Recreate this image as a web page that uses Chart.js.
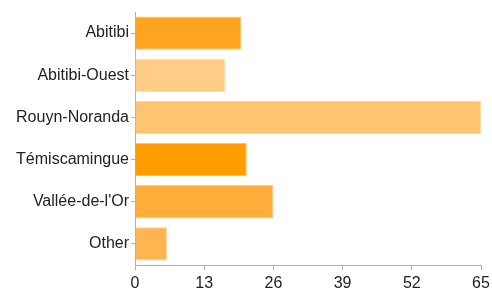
<!DOCTYPE html>
<html>
<head>
<meta charset="utf-8">
<script src="https://cdn.jsdelivr.net/npm/chart.js@4"></script>
<style>
html,body{margin:0;padding:0;background:#fff;}
#wrap{width:492px;height:290px;}
</style>
</head>
<body>
<div id="wrap"><canvas id="c" width="492" height="290"></canvas></div>
<script>
const categories = ["Abitibi", "Abitibi-Ouest", "Rouyn-Noranda", "Témiscamingue", "Vallée-de-l'Or", "Other"];
const values = [20, 17, 65, 21, 26, 6];
const barColors = ["#ffa41f", "#ffcd88", "#ffc470", "#ff9c00", "#ffad3b", "#ffb54f"];
const borderColors = ["#ffc778", "#ffe2bb", "#ffdcaa", "#ffc46a", "#ffcc85", "#ffd192"];
const xTicks = [0, 13, 26, 39, 52, 65];

new Chart(document.getElementById('c'), {
  type: 'bar',
  data: {
    labels: categories,
    datasets: [{
      data: values,
      backgroundColor: barColors,
      borderColor: borderColors,
      borderWidth: 1,
      barPercentage: 0.79,
      categoryPercentage: 1.0
    }]
  },
  options: {
    indexAxis: 'y',
    responsive: false,
    animation: false,
    devicePixelRatio: 1,
    layout: { padding: { top: 12, right: 11, left: 0, bottom: 0 } },
    plugins: { legend: { display: false }, tooltip: { enabled: false } },
    scales: {
      x: {
        min: 0, max: 65,
        afterBuildTicks: (s) => { s.ticks = xTicks.map(v => ({ value: v })); },
        afterFit: (s) => { s.height = 25; s.paddingRight = 0; s.paddingLeft = 0; },
        grid: { drawOnChartArea: false, drawTicks: true, tickLength: 5, color: '#b0b0b0' },
        border: { color: '#b0b0b0', width: 1 },
        ticks: { color: '#222', font: { family: 'Liberation Sans, Arial, sans-serif', size: 16 }, padding: 4, maxRotation: 0 }
      },
      y: {
        afterFit: (s) => { s.width = 135; },
        grid: { offset: false, drawOnChartArea: false, drawTicks: true, tickLength: 4, color: '#b0b0b0' },
        border: { color: '#b0b0b0', width: 1 },
        ticks: { color: '#222', font: { family: 'Liberation Sans, Arial, sans-serif', size: 16 }, padding: 2 }
      }
    }
  }
});
</script>
</body>
</html>
